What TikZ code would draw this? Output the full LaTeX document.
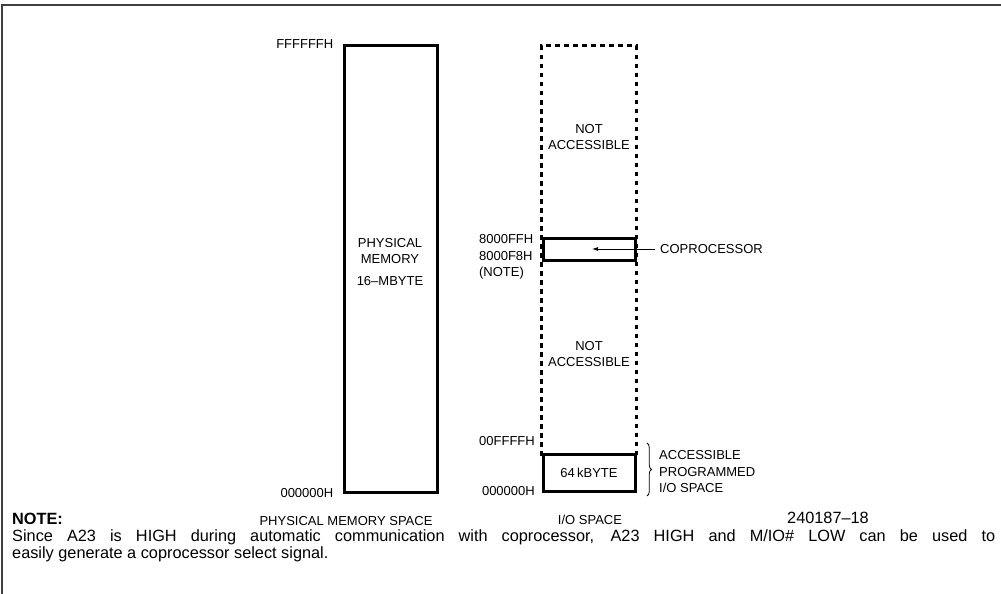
\documentclass[tikz,border=0pt]{standalone}
\usepackage{fontspec}
\setmainfont{Liberation Sans}
\usetikzlibrary{positioning, arrows.meta, calc, decorations.pathreplacing}
\tikzset{
  lbl/.style={inner sep=0pt, font=\fontsize{13}{16.5}\selectfont},
  notetxt/.style={inner sep=0pt, anchor=west, font=\fontsize{16.3}{18}\selectfont},
  membox/.style={draw, line width=3pt, inner sep=0pt},
  dotbox/.style={line width=3pt, dash pattern=on 4.5pt off 4.5pt},
}

\begin{document}
\begin{tikzpicture}[x=1pt, y=-1pt]
  \useasboundingbox (0,0) rectangle (1001,594);
  \draw[line width=1.2pt, black!75] (1001,5) -- (2,5) -- (2,594);
  % physical memory space
  \node[membox, minimum width=93pt, minimum height=446pt] (phys) at (390.5,269) {};
  \node[lbl, align=center] (physlbl) at (390,251) {PHYSICAL\\MEMORY};
  \node[lbl] (physsize) at (390,281) {16--MBYTE};
  \node[lbl, left=9pt of phys.north west] (phystop) {FFFFFFH};
  \node[lbl, left=9pt of phys.south west] (physbot) {000000H};
  \node[lbl] (physcap) at (346,521) {PHYSICAL MEMORY SPACE};
  % i/o space
  \node[membox, minimum width=92pt, minimum height=22pt] (cop) at (589,249) {};
  \node[membox, lbl, minimum width=92pt, minimum height=37pt] (io64) at (589,472.5) {64\,kBYTE};
  \draw[dotbox] ([yshift=-3pt]io64.north west) -- (io64.west |- 0,46) -- (io64.east |- 0,46) -- ([yshift=-3pt]io64.north east);
  \node[lbl, align=center] (na1) at (589,137) {NOT\\ACCESSIBLE};
  \node[lbl, align=center] (na2) at (589,354) {NOT\\ACCESSIBLE};
  \node[lbl, align=left, anchor=east] (copaddr) at ([xshift=-8pt]cop.west |- 0,257) {8000FFH\\8000F8H\\(NOTE)};
  \node[lbl, anchor=west] (coplbl) at (660,249) {COPROCESSOR};
  \coordinate (coptip) at (592,249);
  \draw[-{Latex[length=6pt,width=4pt]}, line width=0.8pt] ([xshift=-5pt]coplbl.west) -- (coptip);
  \node[lbl, anchor=east] (iotop) at (535,441) {00FFFFH};
  \node[lbl, anchor=east] (iobot) at (535,491) {000000H};
  \coordinate (brtop) at (647,443);
  \coordinate (brbot) at (647,496);
  \draw[decorate, decoration={brace, amplitude=4.5pt}, line width=0.8pt] (brtop) -- (brbot);
  \node[lbl, align=left, anchor=west] (acclbl) at (659,472) {ACCESSIBLE\\PROGRAMMED\\I/O SPACE};
  \node[lbl] (iocap) at (590,520) {I/O SPACE};
  % note
  \node[notetxt, anchor=center] (figno) at (828,518) {240187--18};
  \node[notetxt, font=\fontsize{16.3}{18}\selectfont\bfseries] (notehd) at (12,519) {NOTE:};
  \node[notetxt] (note1) at (12,537) {\makebox[983pt][s]{Since A23 is HIGH during automatic communication with coprocessor, A23 HIGH and M/IO\# LOW can be used to}};
  \node[notetxt] (note2) at (12,554) {easily generate a coprocessor select signal.};
\end{tikzpicture}
\end{document}
